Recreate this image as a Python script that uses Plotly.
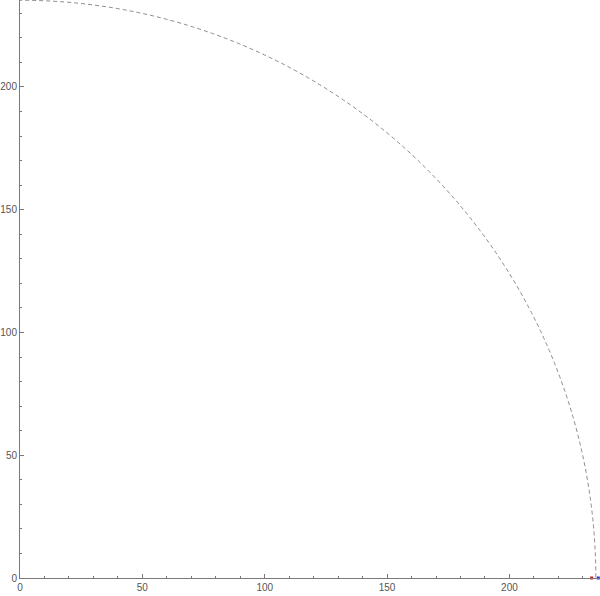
import plotly.graph_objects as go

# quarter circle
radius = 235.3
# small coloured marks sitting on the x axis near the end of the arc
mark_x = [233.6, 236.3]
mark_y = [0, 0]
mark_colors = ["#cc2222", "#2233dd"]

x_ticks = [0, 50, 100, 150, 200]
y_ticks = [0, 50, 100, 150, 200]

fig = go.Figure()

# the arc itself: a circle shape centred at the origin, clipped by the plot area
fig.add_shape(
    type="circle", xref="x", yref="y",
    x0=-radius, y0=-radius, x1=radius, y1=radius,
    line=dict(color="#8c8c8c", width=1, dash="4px,3px"),
)

fig.add_trace(go.Scatter(
    x=mark_x, y=mark_y, mode="markers",
    marker=dict(color=mark_colors, size=3, symbol="square"),
    cliponaxis=False, hoverinfo="skip", showlegend=False,
))

axis_style = dict(
    showgrid=False, zeroline=False, showline=True,
    linecolor="#7a7a7a", linewidth=1,
    ticks="inside", ticklen=4, tickcolor="#7a7a7a",
    tickfont=dict(family="Liberation Sans, Arial", size=10, color="#555555"),
    minor=dict(dtick=10, ticks="inside", ticklen=2, tickcolor="#7a7a7a"),
)

fig.update_xaxes(range=[0, 236.6], tickvals=x_ticks, automargin=False, **axis_style)
fig.update_yaxes(range=[0, 235.4], tickvals=y_ticks, automargin=False, **axis_style)

fig.update_layout(
    width=600, height=596,
    margin=dict(l=20, r=1, t=0, b=18),
    plot_bgcolor="white", paper_bgcolor="white",
    showlegend=False,
)

# drop the default page margin so the figure sits at the window's corner
fig.write_html(
    "out.html",
    config={"displayModeBar": False},
    post_script="document.body.style.margin='0';",
)
